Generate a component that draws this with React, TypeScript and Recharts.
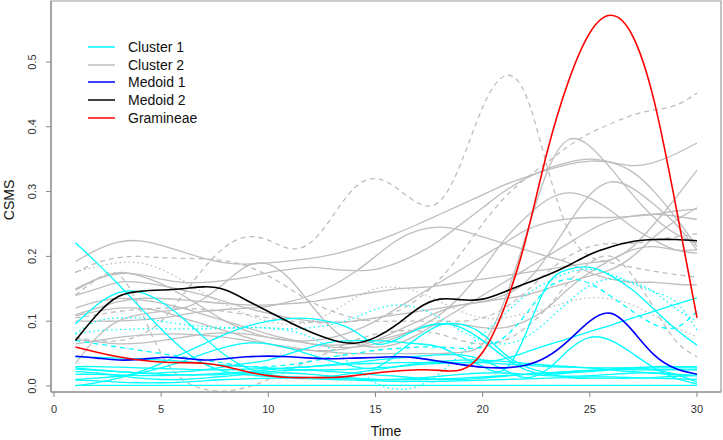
import React from "react";
import { LineChart, Line, XAxis, YAxis, ReferenceArea } from "recharts";

const time = [1, 2, 3, 4, 5, 6, 7, 8, 9, 10, 11, 12, 13, 14, 15, 16, 17, 18, 19, 20, 21, 22, 23, 24, 25, 26, 27, 28, 29, 30];

// cluster 2 (grey)
const c2a = [0.192, 0.21, 0.222, 0.224, 0.217, 0.207, 0.197, 0.19, 0.188, 0.19, 0.193, 0.197, 0.203, 0.212, 0.223, 0.236, 0.25, 0.265, 0.28, 0.295, 0.31, 0.322, 0.333, 0.342, 0.347, 0.345, 0.34, 0.345, 0.358, 0.375];
const c2b = [0.15, 0.165, 0.173, 0.172, 0.165, 0.16, 0.16, 0.163, 0.168, 0.175, 0.18, 0.183, 0.18, 0.178, 0.18, 0.19, 0.205, 0.225, 0.25, 0.275, 0.3, 0.32, 0.335, 0.345, 0.35, 0.345, 0.33, 0.3, 0.26, 0.215];
const c2c = [0.065, 0.07, 0.075, 0.078, 0.08, 0.08, 0.078, 0.075, 0.07, 0.065, 0.06, 0.055, 0.052, 0.05, 0.05, 0.05, 0.05, 0.05, 0.052, 0.065, 0.13, 0.23, 0.33, 0.38, 0.37, 0.335, 0.295, 0.26, 0.235, 0.22];
const c2d = [0.14, 0.15, 0.16, 0.16, 0.155, 0.148, 0.14, 0.13, 0.12, 0.112, 0.105, 0.1, 0.098, 0.1, 0.105, 0.11, 0.115, 0.12, 0.125, 0.13, 0.14, 0.16, 0.2, 0.25, 0.295, 0.315, 0.305, 0.28, 0.25, 0.21];
const c2e = [0.12, 0.13, 0.135, 0.133, 0.128, 0.12, 0.11, 0.1, 0.09, 0.08, 0.072, 0.065, 0.06, 0.06, 0.065, 0.075, 0.09, 0.11, 0.14, 0.18, 0.225, 0.26, 0.287, 0.298, 0.29, 0.27, 0.245, 0.225, 0.21, 0.205];
const c2f = [0.11, 0.12, 0.13, 0.135, 0.135, 0.133, 0.13, 0.127, 0.125, 0.125, 0.127, 0.13, 0.135, 0.14, 0.145, 0.15, 0.152, 0.155, 0.16, 0.165, 0.17, 0.175, 0.18, 0.185, 0.19, 0.195, 0.215, 0.25, 0.29, 0.333];
const c2g = [0.148, 0.165, 0.175, 0.17, 0.158, 0.14, 0.12, 0.1, 0.085, 0.075, 0.07, 0.07, 0.075, 0.085, 0.1, 0.12, 0.14, 0.16, 0.18, 0.2, 0.22, 0.24, 0.252, 0.258, 0.26, 0.26, 0.262, 0.265, 0.27, 0.273];
const c2h = [0.035, 0.075, 0.1, 0.11, 0.115, 0.12, 0.135, 0.16, 0.185, 0.188, 0.165, 0.125, 0.088, 0.066, 0.06, 0.065, 0.08, 0.1, 0.12, 0.14, 0.16, 0.18, 0.2, 0.22, 0.24, 0.255, 0.262, 0.265, 0.262, 0.257];
const c2i = [0.1, 0.1, 0.1, 0.102, 0.105, 0.11, 0.115, 0.118, 0.12, 0.123, 0.13, 0.14, 0.155, 0.175, 0.2, 0.225, 0.24, 0.245, 0.24, 0.23, 0.22, 0.21, 0.2, 0.19, 0.175, 0.165, 0.16, 0.16, 0.157, 0.156];
const c2j = [0.072, 0.068, 0.065, 0.066, 0.07, 0.075, 0.08, 0.082, 0.08, 0.075, 0.07, 0.065, 0.063, 0.065, 0.07, 0.078, 0.088, 0.095, 0.095, 0.09, 0.09, 0.1, 0.12, 0.15, 0.175, 0.195, 0.21, 0.215, 0.21, 0.21];
const c2k = [0.108, 0.115, 0.12, 0.12, 0.115, 0.105, 0.095, 0.085, 0.075, 0.065, 0.058, 0.055, 0.055, 0.06, 0.07, 0.085, 0.1, 0.115, 0.125, 0.13, 0.135, 0.14, 0.15, 0.16, 0.17, 0.18, 0.2, 0.23, 0.255, 0.275];
const c2DashA = [0.075, 0.07, 0.07, 0.078, 0.1, 0.14, 0.182, 0.215, 0.23, 0.225, 0.212, 0.222, 0.262, 0.305, 0.32, 0.305, 0.282, 0.285, 0.345, 0.43, 0.478, 0.45, 0.34, 0.24, 0.2, 0.19, 0.183, 0.177, 0.172, 0.168];
const c2DashB = [0.105, 0.11, 0.115, 0.118, 0.12, 0.12, 0.118, 0.115, 0.11, 0.105, 0.1, 0.098, 0.098, 0.1, 0.105, 0.115, 0.135, 0.165, 0.205, 0.25, 0.29, 0.32, 0.345, 0.37, 0.39, 0.405, 0.418, 0.426, 0.433, 0.452];
const c2DashC = [0.175, 0.19, 0.198, 0.2, 0.198, 0.197, 0.196, 0.193, 0.185, 0.17, 0.15, 0.13, 0.115, 0.105, 0.1, 0.1, 0.1, 0.1, 0.1, 0.105, 0.12, 0.145, 0.175, 0.2, 0.215, 0.22, 0.22, 0.225, 0.23, 0.235];
const c2DashD = [0.14, 0.165, 0.172, 0.12, 0.05, 0.01, -0.005, -0.008, -0.002, 0.01, 0.025, 0.04, 0.055, 0.07, 0.08, 0.085, 0.085, 0.08, 0.07, 0.065, 0.07, 0.09, 0.12, 0.16, 0.19, 0.2, 0.17, 0.12, 0.07, 0.045];
const c2Dot = [0.176, 0.184, 0.19, 0.19, 0.18, 0.163, 0.143, 0.125, 0.11, 0.1, 0.095, 0.1, 0.115, 0.135, 0.15, 0.152, 0.145, 0.13, 0.115, 0.105, 0.105, 0.112, 0.12, 0.13, 0.136, 0.134, 0.125, 0.108, 0.09, 0.076];

// cluster 1 (cyan)
const c1a = [0.221, 0.19, 0.157, 0.122, 0.088, 0.057, 0.034, 0.022, 0.017, 0.015, 0.014, 0.013, 0.012, 0.011, 0.01, 0.01, 0.01, 0.011, 0.012, 0.014, 0.016, 0.018, 0.02, 0.022, 0.024, 0.026, 0.028, 0.03, 0.03, 0.03];
const c1b = [0.096, 0.125, 0.144, 0.145, 0.13, 0.105, 0.075, 0.047, 0.028, 0.018, 0.014, 0.013, 0.015, 0.02, 0.025, 0.03, 0.035, 0.038, 0.04, 0.04, 0.038, 0.035, 0.032, 0.03, 0.028, 0.025, 0.022, 0.02, 0.018, 0.016];
const c1DotA = [0.081, 0.1, 0.105, 0.105, 0.1, 0.095, 0.092, 0.09, 0.09, 0.089, 0.085, 0.075, 0.055, 0.03, 0.005, -0.005, 0.0, 0.02, 0.05, 0.08, 0.11, 0.14, 0.16, 0.175, 0.18, 0.172, 0.158, 0.145, 0.13, 0.086];
const c1DotB = [0.08, 0.085, 0.087, 0.088, 0.088, 0.088, 0.088, 0.089, 0.09, 0.09, 0.088, 0.09, 0.095, 0.105, 0.118, 0.125, 0.12, 0.105, 0.085, 0.07, 0.065, 0.075, 0.1, 0.13, 0.155, 0.165, 0.16, 0.145, 0.12, 0.1];
const c1Dash = [0.07, 0.065, 0.06, 0.055, 0.05, 0.045, 0.04, 0.035, 0.03, 0.03, 0.033, 0.038, 0.045, 0.05, 0.055, 0.058, 0.06, 0.06, 0.058, 0.06, 0.075, 0.11, 0.15, 0.165, 0.158, 0.138, 0.115, 0.095, 0.09, 0.115];
const c1c = [0.028, 0.025, 0.022, 0.02, 0.02, 0.022, 0.025, 0.03, 0.035, 0.04, 0.05, 0.06, 0.068, 0.07, 0.07, 0.068, 0.065, 0.06, 0.045, 0.03, 0.025, 0.08, 0.155, 0.18, 0.183, 0.17, 0.148, 0.118, 0.088, 0.063];
const c1d = [0.0, 0.005, 0.012, 0.022, 0.035, 0.05, 0.065, 0.08, 0.092, 0.1, 0.104, 0.104, 0.098, 0.085, 0.065, 0.072, 0.088, 0.096, 0.09, 0.07, 0.045, 0.025, 0.018, 0.02, 0.022, 0.025, 0.025, 0.025, 0.025, 0.025];
const c1e = [0.01, 0.012, 0.015, 0.02, 0.028, 0.038, 0.05, 0.06, 0.066, 0.065, 0.058, 0.048, 0.038, 0.03, 0.028, 0.05, 0.075, 0.094, 0.095, 0.08, 0.05, 0.03, 0.02, 0.013, 0.012, 0.012, 0.012, 0.013, 0.015, 0.016];
const c1f = [0.018, 0.018, 0.017, 0.016, 0.016, 0.017, 0.018, 0.02, 0.022, 0.025, 0.028, 0.03, 0.033, 0.036, 0.04, 0.043, 0.046, 0.048, 0.048, 0.04, 0.025, 0.013, 0.025, 0.055, 0.075, 0.07, 0.05, 0.028, 0.012, 0.003];
const c1g = [0.03, 0.03, 0.029, 0.028, 0.027, 0.026, 0.025, 0.025, 0.026, 0.027, 0.028, 0.03, 0.032, 0.034, 0.035, 0.036, 0.036, 0.036, 0.036, 0.037, 0.042, 0.052, 0.063, 0.073, 0.084, 0.094, 0.105, 0.115, 0.126, 0.136];
const c1h = [0.045, 0.044, 0.043, 0.042, 0.04, 0.038, 0.035, 0.032, 0.03, 0.028, 0.026, 0.025, 0.025, 0.026, 0.028, 0.03, 0.033, 0.035, 0.036, 0.036, 0.034, 0.032, 0.03, 0.029, 0.028, 0.028, 0.028, 0.028, 0.028, 0.028];
const c1i = [0.001, 0.001, 0.001, 0.001, 0.001, 0.001, 0.001, 0.001, 0.001, 0.001, 0.001, 0.001, 0.001, 0.001, 0.001, 0.001, 0.001, 0.001, 0.001, 0.001, 0.001, 0.001, 0.001, 0.001, 0.001, 0.001, 0.001, 0.001, 0.001, 0.001];
const c1j = [0.009, 0.008, 0.006, 0.005, 0.005, 0.006, 0.008, 0.01, 0.011, 0.012, 0.012, 0.011, 0.01, 0.009, 0.008, 0.007, 0.007, 0.007, 0.008, 0.009, 0.01, 0.011, 0.012, 0.013, 0.014, 0.014, 0.013, 0.012, 0.011, 0.01];
const c1k = [0.022, 0.02, 0.016, 0.012, 0.01, 0.01, 0.012, 0.015, 0.018, 0.02, 0.02, 0.018, 0.015, 0.012, 0.01, 0.01, 0.012, 0.015, 0.018, 0.02, 0.02, 0.018, 0.016, 0.015, 0.016, 0.018, 0.02, 0.02, 0.018, 0.016];
const c1l = [0.026, 0.024, 0.022, 0.02, 0.018, 0.017, 0.017, 0.018, 0.02, 0.022, 0.024, 0.024, 0.022, 0.02, 0.017, 0.015, 0.012, 0.01, 0.01, 0.012, 0.015, 0.018, 0.02, 0.022, 0.024, 0.026, 0.028, 0.025, 0.018, 0.006];

const medoid1 = [0.046, 0.043, 0.04, 0.041, 0.044, 0.043, 0.04, 0.042, 0.045, 0.046, 0.045, 0.043, 0.042, 0.043, 0.044, 0.045, 0.043, 0.038, 0.033, 0.029, 0.028, 0.032, 0.045, 0.07, 0.1, 0.112, 0.085, 0.048, 0.027, 0.018];
const medoid2 = [0.07, 0.11, 0.138, 0.146, 0.148, 0.15, 0.153, 0.148, 0.132, 0.115, 0.098, 0.083, 0.071, 0.066, 0.075, 0.095, 0.12, 0.134, 0.133, 0.134, 0.145, 0.158, 0.171, 0.186, 0.203, 0.215, 0.223, 0.226, 0.226, 0.224];
const gramineae = [0.06, 0.052, 0.045, 0.04, 0.037, 0.036, 0.035, 0.03, 0.022, 0.016, 0.013, 0.013, 0.013, 0.016, 0.02, 0.023, 0.025, 0.024, 0.025, 0.052, 0.12, 0.225, 0.36, 0.47, 0.545, 0.572, 0.54, 0.44, 0.28, 0.105];

const GREY = "#bebebe";
const CYAN = "#00ffff";
const FONT = '"Liberation Sans", Arial, sans-serif';

const series = [
  { key: "c2a", values: c2a, color: GREY },
  { key: "c2b", values: c2b, color: GREY },
  { key: "c2c", values: c2c, color: GREY },
  { key: "c2d", values: c2d, color: GREY },
  { key: "c2e", values: c2e, color: GREY },
  { key: "c2f", values: c2f, color: GREY },
  { key: "c2g", values: c2g, color: GREY },
  { key: "c2h", values: c2h, color: GREY },
  { key: "c2i", values: c2i, color: GREY },
  { key: "c2j", values: c2j, color: GREY },
  { key: "c2k", values: c2k, color: GREY },
  { key: "c2DashA", values: c2DashA, color: GREY, dash: "5 4" },
  { key: "c2DashB", values: c2DashB, color: GREY, dash: "5 4" },
  { key: "c2DashC", values: c2DashC, color: GREY, dash: "5 4" },
  { key: "c2DashD", values: c2DashD, color: GREY, dash: "5 4" },
  { key: "c2Dot", values: c2Dot, color: GREY, dash: "1.5 3" },
  { key: "c1a", values: c1a, color: CYAN },
  { key: "c1b", values: c1b, color: CYAN },
  { key: "c1DotA", values: c1DotA, color: CYAN, dash: "1.5 3" },
  { key: "c1DotB", values: c1DotB, color: CYAN, dash: "1.5 3" },
  { key: "c1Dash", values: c1Dash, color: CYAN, dash: "5 4" },
  { key: "c1c", values: c1c, color: CYAN },
  { key: "c1d", values: c1d, color: CYAN },
  { key: "c1e", values: c1e, color: CYAN },
  { key: "c1f", values: c1f, color: CYAN },
  { key: "c1g", values: c1g, color: CYAN },
  { key: "c1h", values: c1h, color: CYAN },
  { key: "c1i", values: c1i, color: CYAN },
  { key: "c1j", values: c1j, color: CYAN },
  { key: "c1k", values: c1k, color: CYAN },
  { key: "c1l", values: c1l, color: CYAN },
  { key: "medoid1", values: medoid1, color: "#0000ff", width: 1.6 },
  { key: "medoid2", values: medoid2, color: "#000000", width: 1.6 },
  { key: "gramineae", values: gramineae, color: "#ff0000", width: 1.6 },
];

const data = time.map((t, i) => {
  const row: any = { t };
  series.forEach((s) => (row[s.key] = s.values[i]));
  return row;
});

const legendItems = [
  { label: "Cluster 1", color: CYAN },
  { label: "Cluster 2", color: GREY },
  { label: "Medoid 1", color: "#0000ff" },
  { label: "Medoid 2", color: "#000000" },
  { label: "Gramineae", color: "#ff0000" },
];

const YTick = ({ y, payload }: any) => (
  <text
    x={36}
    y={y}
    transform={`rotate(-90 36 ${y})`}
    textAnchor="middle"
    fontSize={11}
    fill="#333"
    fontFamily={FONT}
  >
    {payload.value.toFixed(1)}
  </text>
);

export default function App() {
  return (
    <div style={{ position: "absolute", left: 0, top: 0, width: 723, height: 440, background: "#fff" }}>
      <LineChart width={723} height={440} data={data} margin={{ top: 1, right: 2, left: 0, bottom: 0 }}>
        <XAxis
          dataKey="t"
          type="number"
          domain={[-0.14, 31.12]}
          allowDataOverflow
          ticks={[0, 5, 10, 15, 20, 25, 30]}
          interval={0}
          height={48}
          tickSize={5}
          tickMargin={8}
          stroke="#888"
          tick={{ fontSize: 11, fill: "#333", fontFamily: FONT }}
        />
        <YAxis
          type="number"
          domain={[-0.0093, 0.5941]}
          allowDataOverflow
          ticks={[0, 0.1, 0.2, 0.3, 0.4, 0.5]}
          interval={0}
          width={51}
          tickSize={5}
          stroke="#888"
          tick={<YTick />}
        />
        <ReferenceArea x1={-0.14} x2={31.12} y1={-0.0093} y2={0.5941} fill="none" stroke="#999" strokeWidth={1.2} />
        {series.map((s) => (
          <Line
            key={s.key}
            dataKey={s.key}
            type="natural"
            stroke={s.color}
            strokeWidth={s.width ?? 1.3}
            strokeDasharray={s.dash}
            dot={false}
            activeDot={false}
            isAnimationActive={false}
          />
        ))}
      </LineChart>
      <div
        style={{ position: "absolute", left: 88, top: 38, fontFamily: FONT, fontSize: 14, color: "#111" }}
      >
        {legendItems.map((it) => (
          <div key={it.label} style={{ display: "flex", alignItems: "center", height: 17.7 }}>
            <svg width={40} height={10}>
              <line x1={0} x2={27} y1={5} y2={5} stroke={it.color} strokeWidth={1.5} />
            </svg>
            <span>{it.label}</span>
          </div>
        ))}
      </div>
      <div
        style={{
          position: "absolute",
          left: 386,
          top: 423,
          transform: "translateX(-50%)",
          fontFamily: FONT,
          fontSize: 14,
          color: "#111",
          lineHeight: "16px",
        }}
      >
        Time
      </div>
      <div
        style={{
          position: "absolute",
          left: 9,
          top: 200,
          transform: "translate(-50%, -50%) rotate(-90deg)",
          fontFamily: FONT,
          fontSize: 14,
          color: "#111",
          lineHeight: "16px",
        }}
      >
        CSMS
      </div>
    </div>
  );
}
